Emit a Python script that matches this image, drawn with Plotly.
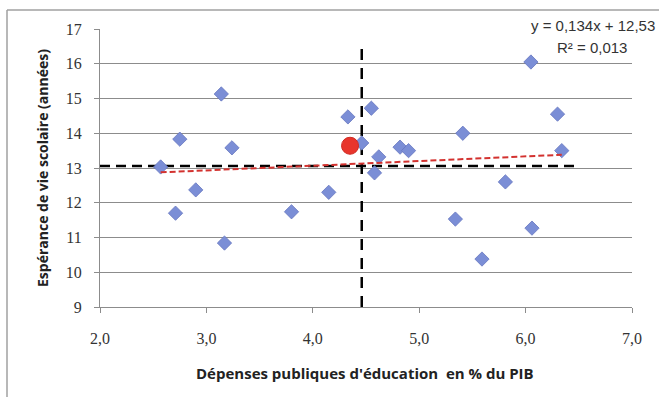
import plotly.graph_objects as go

# Data
depenses = [2.57, 2.75, 2.90, 3.14, 3.24, 4.15, 2.71, 3.17, 3.80, 4.33, 4.46, 4.55,
            4.62, 4.58, 4.82, 4.90, 5.41, 5.81, 6.05, 6.30, 6.34, 5.34, 6.06, 5.59]
esperance = [13.03, 13.83, 12.37, 15.13, 13.58, 12.30, 11.70, 10.84, 11.74, 14.47, 13.72, 14.72,
             13.32, 12.86, 13.60, 13.50, 14.00, 12.60, 16.05, 14.55, 13.50, 11.53, 11.27, 10.38]
highlight_x = [4.35]
highlight_y = [13.64]
slope = 0.134
intercept = 12.53
mean_y = 13.06
mean_x = 4.46
hline_x = [2.0, 6.5]
vline_y = [9.0, 16.5]
x_ticks = [2, 3, 4, 5, 6, 7]
x_tick_labels = ["2,0", "3,0", "4,0", "5,0", "6,0", "7,0"]
y_ticks = [9, 10, 11, 12, 13, 14, 15, 16, 17]

trend_x = [min(depenses), max(depenses)]
trend_y = [slope * v + intercept for v in trend_x]

fig = go.Figure()
fig.add_trace(go.Scatter(x=hline_x, y=[mean_y, mean_y], mode="lines",
                         line=dict(color="black", width=2.5, dash="10px,6px"), hoverinfo="skip"))
fig.add_trace(go.Scatter(x=[mean_x, mean_x], y=vline_y, mode="lines",
                         line=dict(color="black", width=2.5, dash="11px,8px"), hoverinfo="skip"))
fig.add_trace(go.Scatter(x=depenses, y=esperance, mode="markers",
                         marker=dict(symbol="diamond", size=11, color="#7b8ed6",
                                     line=dict(color="#6676bf", width=0.8))))
fig.add_trace(go.Scatter(x=trend_x, y=trend_y, mode="lines",
                         line=dict(color="#d3322f", width=2, dash="6px,3px"), hoverinfo="skip"))
fig.add_trace(go.Scatter(x=highlight_x, y=highlight_y, mode="markers",
                         marker=dict(symbol="circle", size=17, color="#e8352c",
                                     line=dict(color="#d02a22", width=1))))

W, H = 659, 397
L, R, T, B = 100, 27, 29, 90
pw, ph = W - L - R, H - T - B

def px(xp):
    return (xp - L) / pw

def py(yp):
    return (H - B - yp) / ph

tick_font = dict(family="Liberation Serif, Times New Roman, serif", size=16, color="#333")
title_font = dict(family="Open Sans, DejaVu Sans, sans-serif", size=14, color="#222")
eq_font = dict(family="Liberation Sans, Arial, sans-serif", size=15, color="#333")
fig.update_layout(
    template="none",
    width=W, height=H,
    margin=dict(l=L, r=R, t=T, b=B),
    paper_bgcolor="white", plot_bgcolor="white",
    showlegend=False,
    xaxis=dict(range=[2, 7], tickvals=x_ticks, ticktext=x_tick_labels, showgrid=False,
               zeroline=False, showline=True, linecolor="#8c8c8c", linewidth=1.2,
               ticks="outside", ticklen=5, tickcolor="#8c8c8c", tickwidth=1.2,
               tickfont=tick_font, ticklabelstandoff=12),
    yaxis=dict(range=[9, 17], tickvals=y_ticks, showgrid=True, gridcolor="#8c8c8c", gridwidth=1.2,
               zeroline=False, showline=True, linecolor="#8c8c8c", linewidth=1.2,
               ticks="outside", ticklen=5, tickcolor="#8c8c8c", tickwidth=1.2,
               tickfont=tick_font, ticklabelstandoff=9),
    annotations=[
        dict(text="y = 0,134x + 12,53", xref="paper", yref="paper", x=px(657), y=py(25),
             xanchor="right", yanchor="middle", showarrow=False, font=eq_font),
        dict(text="R² = 0,013", xref="paper", yref="paper", x=px(629), y=py(47),
             xanchor="right", yanchor="middle", showarrow=False, font=eq_font),
        dict(text="<b>Dépenses publiques d'éducation  en % du PIB</b>", xref="paper", yref="paper",
             x=px(365), y=py(373), xanchor="center", yanchor="middle", showarrow=False,
             font=dict(family="Open Sans, DejaVu Sans, sans-serif", size=15, color="#222")),
        dict(text="<b>Espérance de vie scolaire (années)</b>", xref="paper", yref="paper",
             x=px(42), y=py(168), xanchor="center", yanchor="middle", showarrow=False,
             textangle=-90, font=title_font),
    ],
    shapes=[
        dict(type="line", xref="paper", yref="paper", x0=px(7), x1=px(7), y0=py(397), y1=py(10),
             line=dict(color="#a0a0a0", width=1.5), layer="above"),
        dict(type="line", xref="paper", yref="paper", x0=px(7), x1=px(659), y0=py(10), y1=py(10),
             line=dict(color="#a0a0a0", width=1.5), layer="above"),
    ],
)

fig.write_html("out.html", config={"displayModeBar": False},
               post_script="document.body.style.margin='0';")
